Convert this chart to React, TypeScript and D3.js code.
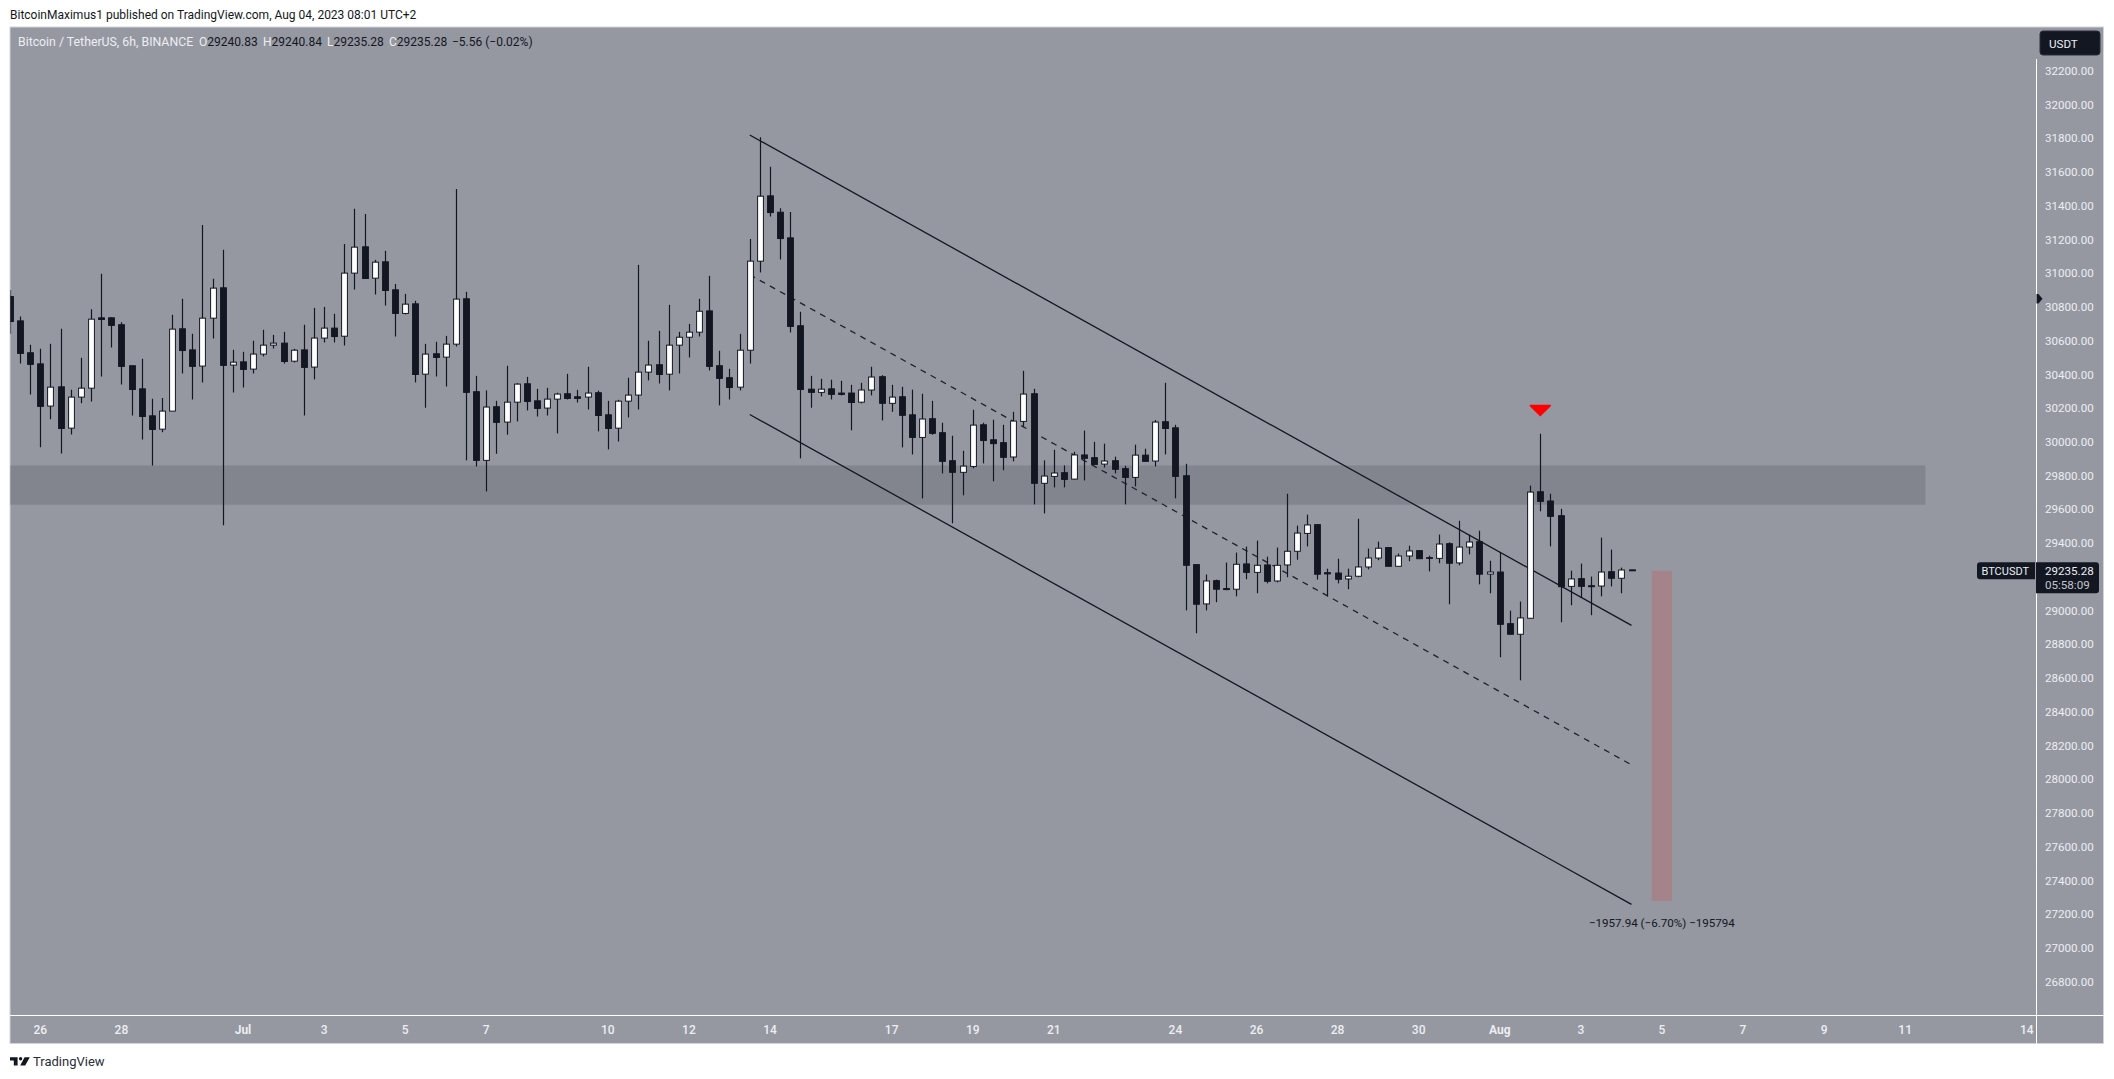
import * as d3 from 'd3'

// values, one entry per 6h candle (index 0 = Jun 25 06:00-ish, clipped by the left edge)
const opens = [
  30861, 30717, 30528, 30462, 30212, 30326, 30081, 30265, 30318, 30735,
  30735, 30694, 30451, 30314, 30154, 30075, 30182, 30670, 30545, 30449,
  30733, 30913, 30455, 30474, 30431, 30520, 30573, 30585, 30478, 30545,
  30443, 30615, 30674, 30626, 31000, 31156, 30970, 31067, 30901, 30761,
  30818, 30401, 30522, 30502, 30579, 30848, 30297, 29890, 30208, 30117,
  30235, 30344, 30243, 30200, 30253, 30285, 30267, 30265, 30291, 30160,
  30081, 30241, 30277, 30413, 30457, 30401, 30573, 30620, 30650, 30776,
  30451, 30380, 30324, 30543, 31071, 31458, 31361, 31209, 30688, 30312,
  30293, 30314, 30289, 30289, 30235, 30307, 30386, 30228, 30267, 30160,
  30026, 30137, 30054, 29888, 29819, 29854, 30101, 30012, 29995, 29910,
  30121, 30285, 29754, 29795, 29817, 29779, 29922, 29906, 29868, 29888,
  29841, 29789, 29921, 29886, 30119, 30083, 29799, 29272, 29039, 29177,
  29130, 29126, 29276, 29226, 29270, 29175, 29270, 29351, 29457, 29509,
  29224, 29222, 29187, 29203, 29258, 29311, 29373, 29262, 29323, 29355,
  29313, 29309, 29396, 29282, 29376, 29408, 29216, 29228, 28922, 28859,
  28954, 29704, 29649, 29562, 29143, 29189, 29147, 29145, 29230, 29191, 29240.83,
]
const closes = [
  30713, 30524, 30459, 30210, 30324, 30079, 30265, 30318, 30727, 30725,
  30690, 30447, 30310, 30150, 30073, 30182, 30668, 30541, 30447, 30733,
  30911, 30453, 30472, 30429, 30520, 30573, 30585, 30476, 30543, 30441,
  30615, 30674, 30624, 31000, 31154, 30968, 31065, 30897, 30761, 30816,
  30399, 30520, 30500, 30579, 30846, 30293, 29890, 30206, 30115, 30235,
  30342, 30239, 30198, 30253, 30283, 30257, 30257, 30289, 30156, 30079,
  30241, 30277, 30413, 30455, 30399, 30573, 30620, 30650, 30774, 30447,
  30376, 30322, 30543, 31071, 31456, 31359, 31205, 30684, 30310, 30293,
  30312, 30281, 30281, 30233, 30307, 30384, 30228, 30265, 30157, 30026,
  30135, 30050, 29884, 29819, 29856, 30099, 30008, 29989, 29908, 30123,
  30283, 29754, 29797, 29815, 29777, 29922, 29902, 29866, 29886, 29837,
  29789, 29921, 29884, 30117, 30079, 29795, 29268, 29037, 29175, 29126,
  29124, 29274, 29226, 29268, 29173, 29268, 29351, 29459, 29507, 29215,
  29217, 29185, 29203, 29258, 29311, 29369, 29262, 29323, 29353, 29307,
  29309, 29394, 29280, 29376, 29406, 29215, 29228, 28918, 28859, 28956,
  29702, 29647, 29558, 29141, 29187, 29143, 29141, 29228, 29191, 29240, 29235.28,
]
const highs = [
  30900, 30743, 30575, 30551, 30581, 30670, 30308, 30498, 30786, 30996,
  30739, 30709, 30451, 30492, 30255, 30259, 30753, 30848, 30640, 31286,
  30966, 31138, 30545, 30534, 30599, 30664, 30634, 30652, 30551, 30694,
  30794, 30800, 30759, 31173, 31381, 31351, 31079, 31132, 30936, 30877,
  30836, 30581, 30593, 30628, 31499, 30889, 30391, 30305, 30243, 30451,
  30348, 30385, 30314, 30320, 30291, 30403, 30308, 30445, 30303, 30243,
  30249, 30380, 31049, 30599, 30658, 30812, 30652, 30699, 30848, 30984,
  30540, 30433, 30640, 31203, 31805, 31630, 31385, 31363, 30771, 30391,
  30374, 30368, 30362, 30338, 30350, 30445, 30395, 30338, 30326, 30309,
  30285, 30243, 30113, 30036, 29947, 30190, 30113, 30131, 30101, 30178,
  30421, 30314, 29890, 29953, 29860, 29941, 30066, 30000, 29989, 29912,
  29858, 29983, 29959, 30129, 30350, 30101, 29870, 29272, 29213, 29183,
  29284, 29343, 29379, 29414, 29319, 29373, 29692, 29503, 29568, 29509,
  29248, 29307, 29248, 29544, 29367, 29408, 29373, 29337, 29384, 29355,
  29325, 29450, 29404, 29532, 29450, 29473, 29295, 29345, 28999, 29053,
  29740, 30048, 29692, 29603, 29236, 29278, 29201, 29432, 29361, 29254, 29240.84,
]
const lows = [
  30640, 30464, 30281, 29967, 30133, 29931, 30044, 30228, 30239, 30387,
  30559, 30340, 30156, 30014, 29860, 30056, 30182, 30405, 30251, 30352,
  30613, 29505, 30293, 30322, 30405, 30506, 30553, 30464, 30470, 30156,
  30370, 30589, 30589, 30571, 30903, 30968, 30873, 30808, 30624, 30755,
  30352, 30202, 30387, 30328, 30565, 29890, 29854, 29706, 29929, 30042,
  30121, 30186, 30150, 30156, 30050, 30251, 30233, 30192, 30062, 29955,
  30002, 30145, 30192, 30364, 30346, 30305, 30405, 30500, 30624, 30423,
  30216, 30251, 30305, 30464, 31004, 31335, 31081, 30648, 29902, 30202,
  30269, 30251, 30275, 30068, 30228, 30275, 30127, 30178, 29967, 29925,
  29665, 30042, 29813, 29517, 29683, 29843, 29872, 29766, 29831, 29884,
  30091, 29629, 29576, 29730, 29730, 29777, 29771, 29862, 29848, 29813,
  29629, 29736, 29884, 29854, 29925, 29665, 29001, 28865, 29001, 29049,
  29120, 29084, 29185, 29102, 29161, 29167, 29197, 29301, 29380, 29183,
  29084, 29161, 29126, 29197, 29244, 29298, 29262, 29262, 29292, 29307,
  29232, 29280, 29037, 29268, 29333, 29155, 29102, 28723, 28859, 28586,
  28954, 29588, 29380, 28930, 29031, 29078, 28972, 29084, 29143, 29102, 29235.28,
]

// 29200 sits under the last-price label, so it is not listed
const priceTicks = d3.range(26800, 32201, 200).filter((tick) => tick !== 29200)
const dateTicks: Array<[number, string]> = [
  [3, '26'], [11, '28'], [23, 'Jul'], [31, '3'], [39, '5'], [47, '7'], [59, '10'], [67, '12'],
  [75, '14'], [87, '17'], [95, '19'], [103, '21'], [115, '24'], [123, '26'], [131, '28'],
  [139, '30'], [147, 'Aug'], [155, '3'], [163, '5'], [171, '7'], [179, '9'], [187, '11'], [199, '14'],
]

const zoneTop = 29860
const zoneBottom = 29627
const zoneEndBar = 189
const channelBars = [73, 160]
const channelUpper = [31819, 28912]
const channelLower = [30162, 27258]
const lastPrice = 29235.28
const projectionBars = [162, 164]
const projectionDrop = 1957.94
const markerBar = 151
const markerPrices = [30220, 30150]

const bg = '#9598a1'
const ink = '#131722'
const pale = '#eceef2'
const font = 'Roboto, sans-serif'

const chart = { left: 10, right: 2103.5, top: 27, bottom: 1043.5, scaleX: 2036.5, timeY: 1015.5 }

const x = d3.scaleLinear().domain([0, 160]).range([9.9, 1631.5])
const y = d3.scaleLinear().domain([32200, 26800]).range([70.7, 981.6])

export default function App() {
  const line = d3
    .line<[number, number]>()
    .x((d) => x(d[0]))
    .y((d) => y(d[1]))
  const pts = (prices: number[]) => channelBars.map((bar, i) => [bar, prices[i]] as [number, number])
  const channelMid = channelUpper.map((p, i) => (p + channelLower[i]) / 2)

  return (
    <svg
      width={2114}
      height={1079}
      style={{ position: 'fixed', left: 0, top: 0, background: '#fff' }}
      fontFamily={font}
    >
      <defs>
        <clipPath id="plot">
          <rect
            x={chart.left + 0.5}
            y={chart.top}
            width={chart.scaleX - chart.left - 0.5}
            height={chart.timeY - chart.top}
          />
        </clipPath>
      </defs>

      <text x={10} y={19} fontSize={12} fill={ink}>
        BitcoinMaximus1 published on TradingView.com, Aug 04, 2023 08:01 UTC+2
      </text>

      <rect
        x={chart.left}
        y={chart.top}
        width={chart.right - chart.left}
        height={chart.bottom - chart.top}
        fill={bg}
        stroke="#d1d4dc"
      />

      <g clipPath="url(#plot)">
        <rect
          x={chart.left}
          y={y(zoneTop)}
          width={x(zoneEndBar) - chart.left}
          height={y(zoneBottom) - y(zoneTop)}
          fill="#82858d"
        />
        <rect
          x={x(projectionBars[0])}
          y={y(lastPrice)}
          width={x(projectionBars[1]) - x(projectionBars[0])}
          height={y(lastPrice - projectionDrop) - y(lastPrice)}
          fill="#a5838a"
        />
        <path d={line(pts(channelUpper)) ?? ''} fill="none" stroke={ink} strokeWidth={1.3} />
        <path d={line(pts(channelLower)) ?? ''} fill="none" stroke={ink} strokeWidth={1.3} />
        <path
          d={line(pts(channelMid)) ?? ''}
          fill="none"
          stroke="#1e222d"
          strokeWidth={1.3}
          strokeDasharray="6 5.5"
        />

        {opens.map((open, i) => {
          const close = closes[i]
          const up = close > open
          const cx = Math.round(x(i)) + 0.5
          const top = y(Math.max(open, close))
          const bottom = y(Math.min(open, close))
          return (
            <g key={i}>
              <line x1={cx} x2={cx} y1={y(highs[i])} y2={y(lows[i])} stroke={ink} strokeWidth={1.2} />
              <rect
                x={cx - 2.9}
                y={top}
                width={5.8}
                height={Math.max(bottom - top, 0.4)}
                fill={up ? '#ffffff' : ink}
                stroke={ink}
                strokeWidth={1}
              />
            </g>
          )
        })}

        <path
          d={`M${x(markerBar) - 10.5},${y(markerPrices[0])}h21v1.5l-10.5,${y(markerPrices[1]) - y(markerPrices[0]) - 1.5}l-10.5,${-(y(markerPrices[1]) - y(markerPrices[0]) - 1.5)}z`}
          fill="#ff0000"
        />

        <text
          x={x((projectionBars[0] + projectionBars[1]) / 2)}
          y={927}
          fontSize={11.6}
          fill={ink}
          textAnchor="middle"
        >
          −1957.94 (−6.70%) −195794
        </text>
      </g>

      <text x={18} y={46} fontSize={12.3} fill={pale}>
        Bitcoin / TetherUS, 6h, BINANCE
      </text>
      {[
        [199, 'O', '29240.83'],
        [263, 'H', '29240.84'],
        [327, 'L', '29235.28'],
        [389, 'C', '29235.28'],
      ].map(([lx, label, value]) => (
        <text key={label} x={lx} y={46} fontSize={12} fill={ink}>
          <tspan fill={pale}>{label}</tspan>
          {value}
        </text>
      ))}
      <text x={452} y={46} fontSize={12} fill={ink}>
        −5.56 (−0.02%)
      </text>

      <line x1={chart.scaleX} x2={chart.scaleX} y1={59} y2={chart.bottom} stroke="#fff" />
      <line x1={chart.left} x2={chart.right} y1={chart.timeY} y2={chart.timeY} stroke="#fff" />

      <rect x={2040} y={31} width={60} height={24} rx={3} fill={ink} stroke="#2a2e39" />
      <text x={2049} y={47.5} fontSize={11.6} fill={pale}>
        USDT
      </text>

      {priceTicks.map((tick) => (
        <text key={tick} x={2045} y={y(tick) + 4.2} fontSize={11.6} fill={pale}>
          {tick.toFixed(2)}
        </text>
      ))}

      {dateTicks.map(([bar, label]) => (
        <text
          key={bar}
          x={x(bar)}
          y={1034}
          fontSize={12}
          fill={pale}
          textAnchor="middle"
          fontWeight={label === 'Jul' || label === 'Aug' ? 700 : 500}
        >
          {label}
        </text>
      ))}

      <path d="M2036.5,294 l2,0 l4,4.7 l-4,4.7 l-2,0 z" fill={ink} />

      <path d={`M1980,${y(lastPrice) - 8.5}h55v17h-55a3,3 0 0 1 -3,-3v-11a3,3 0 0 1 3,-3z`} fill={ink} />
      <text x={1981.5} y={y(lastPrice) + 4} fontSize={11} fill={pale}>
        BTCUSDT
      </text>
      <path d={`M2036,${y(lastPrice) - 8.5}h60a3,3 0 0 1 3,3v25a3,3 0 0 1 -3,3h-60z`} fill={ink} />
      <text x={2045} y={y(lastPrice) + 4.2} fontSize={11.6} fill={pale}>
        {lastPrice.toFixed(2)}
      </text>
      <text x={2045} y={y(lastPrice) + 18.4} fontSize={11.6} fill="#c3c6ce">
        05:58:09
      </text>

      <path
        d="M10,1057.2h7.6v8.4h-3.8v-5.2h-3.8z M24.6,1057.2h5.2l-4.6,8.4h-5z"
        fill={ink}
      />
      <circle cx={20.6} cy={1058.8} r={1.7} fill={ink} />
      <text x={33} y={1065.8} fontSize={13} fill="#2a2e39">
        TradingView
      </text>
    </svg>
  )
}
